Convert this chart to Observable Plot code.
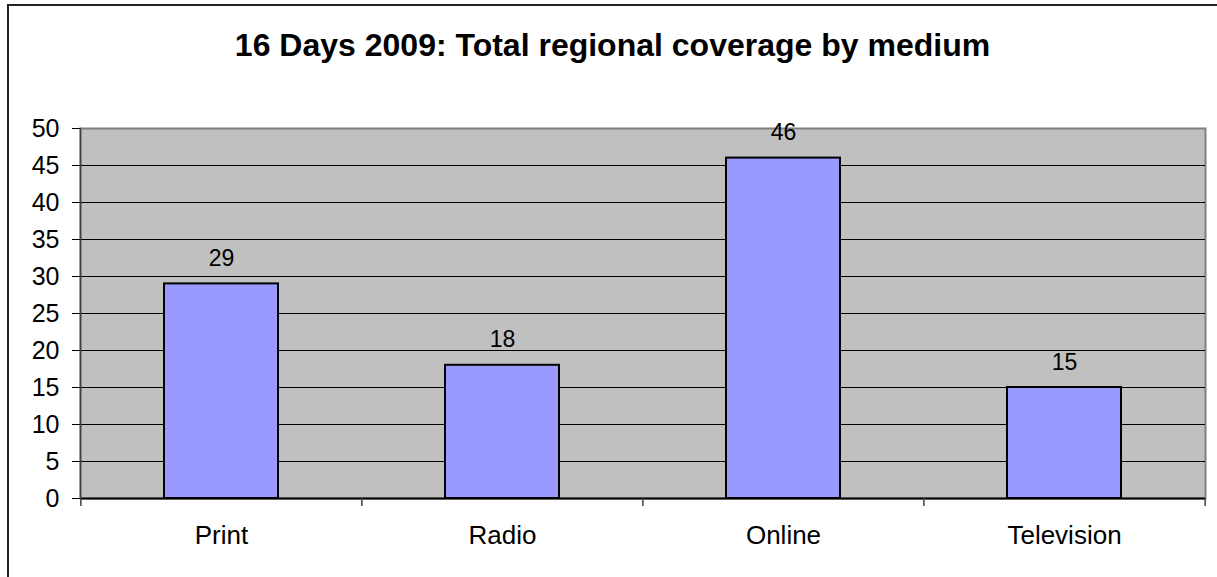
<!DOCTYPE html>
<html>
<head>
<meta charset="utf-8">
<script src="https://cdn.jsdelivr.net/npm/d3@7"></script>
<script src="https://cdn.jsdelivr.net/npm/@observablehq/plot@0.6"></script>
<style>
  html, body { margin: 0; padding: 0; background: #fff; }
  body { width: 1217px; height: 577px; overflow: hidden; position: relative; font-family: Arial, "Liberation Sans", sans-serif; }
  #border { position: absolute; left: 7px; top: 4px; width: 1300px; height: 700px; border-left: 2px solid #222; border-top: 2px solid #222; box-sizing: border-box; pointer-events: none; }
  #title { height: 61px; padding-top: 29px; line-height: 32px; font-size: 32px; font-weight: bold; text-align: center; color: #000; padding-left: 8px; }
  #chart svg { display: block; }
</style>
</head>
<body>
<div id="border"></div>
<div id="title">16 Days 2009: Total regional coverage by medium</div>
<div id="chart"></div>
<script>
const categories = ["Print", "Radio", "Online", "Television"];
const values = [29, 18, 46, 15];
const yTicks = [0, 5, 10, 15, 20, 25, 30, 35, 40, 45, 50];

const data = categories.map((c, i) => ({ medium: c, value: values[i] }));

const W = 1217, H = 487, mL = 80, mR = 12, mT = 38, mB = 79;
const step = (W - mL - mR) / categories.length;
const plotH = H - mT - mB;
const tickLen = 8 / (plotH / 50); // tick length below axis in data units

const chart = Plot.plot({
  width: W,
  height: H,
  marginLeft: mL,
  marginRight: mR,
  marginTop: mT,
  marginBottom: mB,
  style: { fontFamily: "Arial, 'Liberation Sans', sans-serif", fontSize: "25px", color: "#000", background: "transparent", overflow: "visible" },
  x: { domain: categories, paddingInner: 0.595, paddingOuter: 0.2975, label: null },
  y: { domain: [0, 50], label: null },
  marks: [
    Plot.frame({ fill: "#c0c0c0", stroke: "#808080", strokeWidth: 2 }),
    Plot.ruleY(yTicks.filter(t => t > 0 && t < 50), { stroke: "#000", strokeWidth: 1 }),
    Plot.barY(data, { x: "medium", y: "value", fill: "#9999ff", stroke: "#000", strokeWidth: 2 }),
    Plot.ruleY([0], { stroke: "#000", strokeWidth: 2 }),
    Plot.frame({ anchor: "left", stroke: "#404040", strokeWidth: 1.5 }),
    Plot.ruleX(categories, { x: d => d, dx: -step / 2, y1: 0, y2: -tickLen, stroke: "#404040", strokeWidth: 1.5 }),
    Plot.ruleX([categories[categories.length - 1]], { x: d => d, dx: step / 2, y1: 0, y2: -tickLen, stroke: "#404040", strokeWidth: 1.5 }),
    Plot.axisY({ ticks: yTicks, tickSize: 8, tickPadding: 13, stroke: "#000", fontSize: 25, label: null }),
    Plot.axisX({ tickSize: 0, tickPadding: 27, fontSize: 26, label: null }),
    Plot.text(data, { x: "medium", y: "value", text: d => String(d.value), dy: -18, lineAnchor: "bottom", fontSize: 23, fill: "#000" })
  ]
});
document.getElementById("chart").appendChild(chart);
</script>
</body>
</html>
